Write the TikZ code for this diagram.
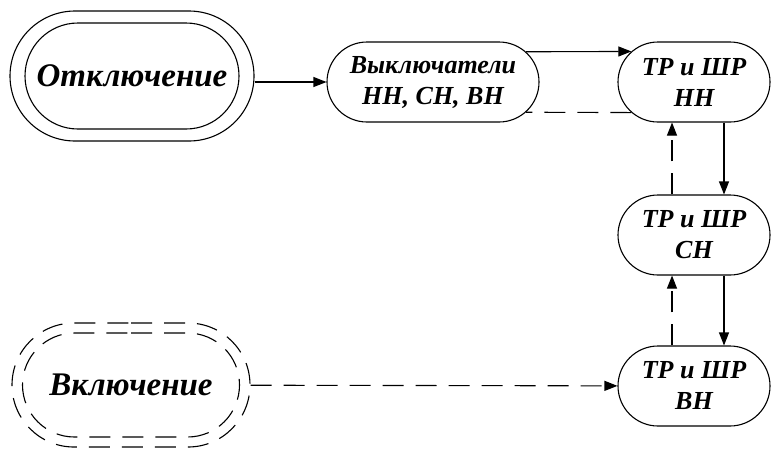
\documentclass[tikz,border=0pt]{standalone}
\usepackage{fontspec}
\setmainfont{Liberation Serif}
\usetikzlibrary{shapes.misc,arrows.meta,positioning}

\begin{document}
\begin{tikzpicture}[
      x=1pt,y=-1pt,
      mybox/.style={
         rounded rectangle,
         draw=black,
         line width=1.1pt,
         align=center,
         inner sep=0pt,
         minimum width=152pt,
         minimum height=80pt,
         font=\fontsize{26}{31}\selectfont\bfseries\itshape},
      mystate/.style={
         mybox,
         font=\fontsize{33}{38}\selectfont\bfseries\itshape},
      mydashed/.style={dash pattern=on 21pt off 12pt},
      myarrow/.style={-{Triangle[length=13pt,width=10pt]},line width=1.1pt}
      ]
      \useasboundingbox (0,0) rectangle (771,448);
      % start states, double outline
      \node[mystate,minimum width=214pt,minimum height=106pt] (off) at (132,76) {Отключение};
      \node[mybox,minimum width=244pt,minimum height=130pt] (offout) at (off) {};
      \node[mystate,mydashed,minimum width=217pt,minimum height=104pt] (on) at (131,385) {Включение};
      \node[mybox,mydashed,minimum width=238pt,minimum height=124pt] (onout) at (on) {};
      % breakers and the three voltage levels
      \node[mybox,minimum width=212pt] (sw) at (433,82) {Выключатели\\НН, СН, ВН};
      \node[mybox] (nn) at (694,82) {ТР и ШР\\НН};
      \node[mybox] (cn) at (694,235) {ТР и ШР\\СН};
      \node[mybox] (vn) at (694,386) {ТР и ШР\\ВН};

      \draw[myarrow] (offout.east |- sw.west) -- (sw.west);
      \draw[myarrow] (sw.18) -- (nn.154);
      \draw[line width=1.1pt,mydashed] (nn.206) -- (sw.-18);
      \draw[myarrow,mydashed] (onout) -- (vn);
      \foreach \a/\b in {nn/cn,cn/vn}{
        \draw[myarrow] ([xshift=30pt]\a.south) -- ([xshift=30pt]\b.north);
        \draw[myarrow,mydashed] ([xshift=-22pt]\b.north) -- ([xshift=-22pt]\a.south);
      }
\end{tikzpicture}
\end{document}
